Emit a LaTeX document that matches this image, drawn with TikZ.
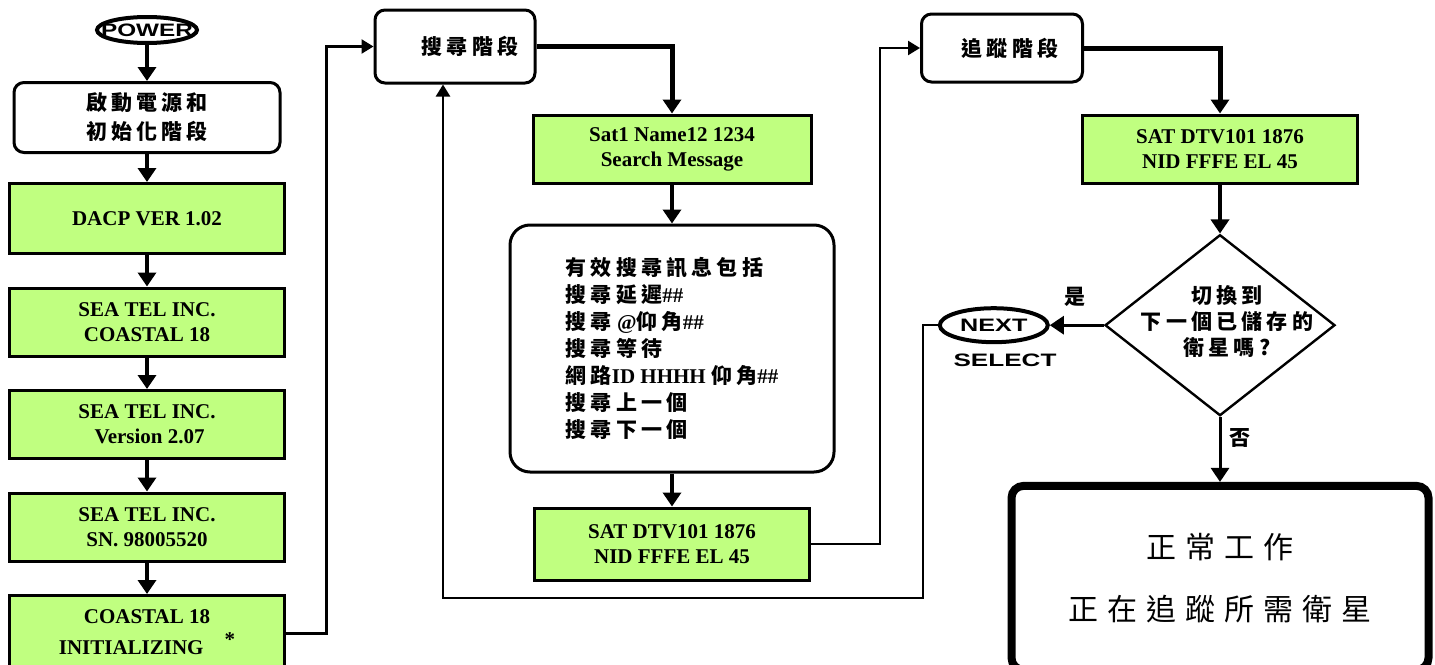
\documentclass[tikz,border=0pt]{standalone}
\usepackage{fontspec}
\usepackage{graphicx}
\setmainfont{Liberation Serif}
\setsansfont{Liberation Sans}
\newfontfamily\cjk{Noto Sans CJK TC}[LetterSpace=20]
\newfontfamily\cjkwide{Noto Sans CJK TC}[LetterSpace=30]
\usepackage{tikz}
\usetikzlibrary{arrows,arrows.meta,shapes}
\usetikzlibrary{shapes.geometric}
\usetikzlibrary{positioning}
\usetikzlibrary{calc}
\definecolor{msggreen}{RGB}{192,255,128}
\tikzstyle{msg} = [draw, rectangle, fill = msggreen, line width = 1.5pt, minimum width = 137.5pt, minimum height = 34pt, align = center, font = \bfseries\fontsize{10.5}{12.5}\selectfont]
\tikzstyle{phase} = [draw, rectangle, rounded corners = 5pt, line width = 1.5pt, align = center, font = \cjk\bfseries\fontsize{10.5}{14.5}\selectfont]
\tikzstyle{terminal} = [draw, ellipse, line width = 2pt, inner sep = 0pt, font = \sffamily\bfseries\fontsize{9}{10}\selectfont]
\tikzstyle{decision} = [draw, diamond, line width = 1.2pt, inner sep = 0pt]
\tikzstyle{tag} = [font = \cjk\bfseries\fontsize{10.5}{13}\selectfont, align = center]
\tikzstyle{arrow} = [line width = 2pt, -{Triangle[width = 9pt, length = 7pt]}]
\tikzstyle{thinarrow} = [line width = 1.2pt, -{Triangle[width = 7pt, length = 6pt]}]

\begin{document}
\begin{tikzpicture}[x = 0.5pt, y = -0.5pt]
			\useasboundingbox (0,0) rectangle (1435,664);
		
			% power on and boot messages
			\node[terminal, minimum width = 50pt, minimum height = 13pt] (power) at (147,30) {\makebox[28pt]{\scalebox{1.35}[1]{POWER}}};
			\node[phase, minimum width = 133pt, minimum height = 35pt, below = 18pt of power] (startup) {啟動電源和\\初始化階段};
			\node[msg, minimum height = 35pt, below = 14pt of startup] (dacp) {DACP VER 1.02};
			\node[msg, below = 15.75pt of dacp] (seacoast) {SEA TEL INC.\\COASTAL 18};
			\node[msg, below = 15.75pt of seacoast] (seaver) {SEA TEL INC.\\\ Version 2.07};
			\node[msg, below = 15.75pt of seaver] (seasn) {SEA TEL INC.\\SN. 98005520};
			\node[msg, minimum height = 38pt, below = 15.75pt of seasn] (coastinit) {\raisebox{5pt}{\begin{tabular}{@{}c@{}}COASTAL 18\\[3pt]INITIALIZING\quad\smash{\raisebox{4pt}{*}}\end{tabular}}};
			
			% search phase
			\node[phase, minimum width = 80pt, minimum height = 36.5pt] (search) at (455,46.5) {\hspace*{15pt}搜尋階段};
			\coordinate[left = 23.5pt of search] (lsearch);
			\node[msg, minimum width = 139pt, minimum height = 34pt] (satname) at (672,149) {Sat1 Name12 1234\\Search Message};
			\node[phase, rounded corners = 10pt, minimum width = 162pt, minimum height = 123.5pt, align = left, font = \bfseries\fontsize{10.5}{13.5}\selectfont, below = 19.5pt of satname] (info)
				{{\cjk 有效搜尋訊息包括}\\{\cjk 搜尋延遲}\#\#\\{\cjk 搜尋} @{\cjk 仰角}\#\#\\{\cjk 搜尋等待}\\{\cjk 網路}ID HHHH {\cjk 仰角}\#\#\\{\cjk 搜尋上一個}\\{\cjk 搜尋下一個}};
			\node[msg, minimum height = 36pt, below = 16.5pt of info] (satfound) {SAT DTV101 1876\\NID FFFE EL 45};
			
			% tracking phase
			\node[phase, minimum width = 80.5pt, minimum height = 34pt] (track) at (1002,48) {\hspace*{8pt}追蹤階段};
			\coordinate[left = 20pt of track] (ltrack);
			\node[msg, minimum height = 34pt] (sattrack) at (1220,149) {SAT DTV101 1876\\NID FFFE EL 45};
			\node[decision, minimum width = 115pt, minimum height = 90.5pt, below = 24.5pt of sattrack] (switch) {};
			\node[tag] (switchtext) at (1227,322) {切換到\\下一個已儲存的\\衛星嗎?};
			\node[terminal, minimum width = 54pt, minimum height = 17pt, left = 27pt of switch] (next) {\scalebox{1.4}[1]{NEXT}};
			\node[font = \sffamily\bfseries\fontsize{9}{10}\selectfont] (select) at (1005,360) {\scalebox{1.45}[1]{SELECT}};
			\node[tag] (yes) at (1075,297) {是};
			\node[tag] (no) at (1240,438) {否};
			\coordinate (lnext) at (923,598);
			
			% normal operation
			\node[draw, rectangle, rounded corners = 6pt, line width = 4pt, minimum width = 208.5pt, minimum height = 92pt, align = center, font = \cjkwide\fontsize{15}{31}\selectfont, below = 32.5pt of switch] (normal) {正常工作\\正在追蹤所需衛星};
			
			% Connect all nodes defined above
			\draw[arrow] (power) -- (startup);
			\draw[arrow] (startup) -- (dacp);
			\draw[arrow] (dacp) -- (seacoast);
			\draw[arrow] (seacoast) -- (seaver);
			\draw[arrow] (seaver) -- (seasn);
			\draw[arrow] (seasn) -- (coastinit);
			\draw[thinarrow] (coastinit.east) -| (lsearch) -- (search.west);
			\draw[arrow, line width = 2.5pt] (search.east) -| (satname.north);
			\draw[arrow] (satname) -- (info);
			\draw[arrow] (info) -- (satfound);
			\draw[thinarrow] (satfound.east) -| (ltrack) -- (track.west);
			\draw[arrow, line width = 2.5pt] (track.east) -| (sattrack.north);
			\draw[arrow] (sattrack) -- (switch);
			\draw[arrow, line width = 1.5pt] (switch.west) -- (next.east);
			\draw[arrow, line width = 1.5pt] (switch.south) -- (normal.north);
			\draw[thinarrow] (next.west) -| (lnext) -| ([xshift = -6pt]search.south);
		
		\end{tikzpicture}
\end{document}
